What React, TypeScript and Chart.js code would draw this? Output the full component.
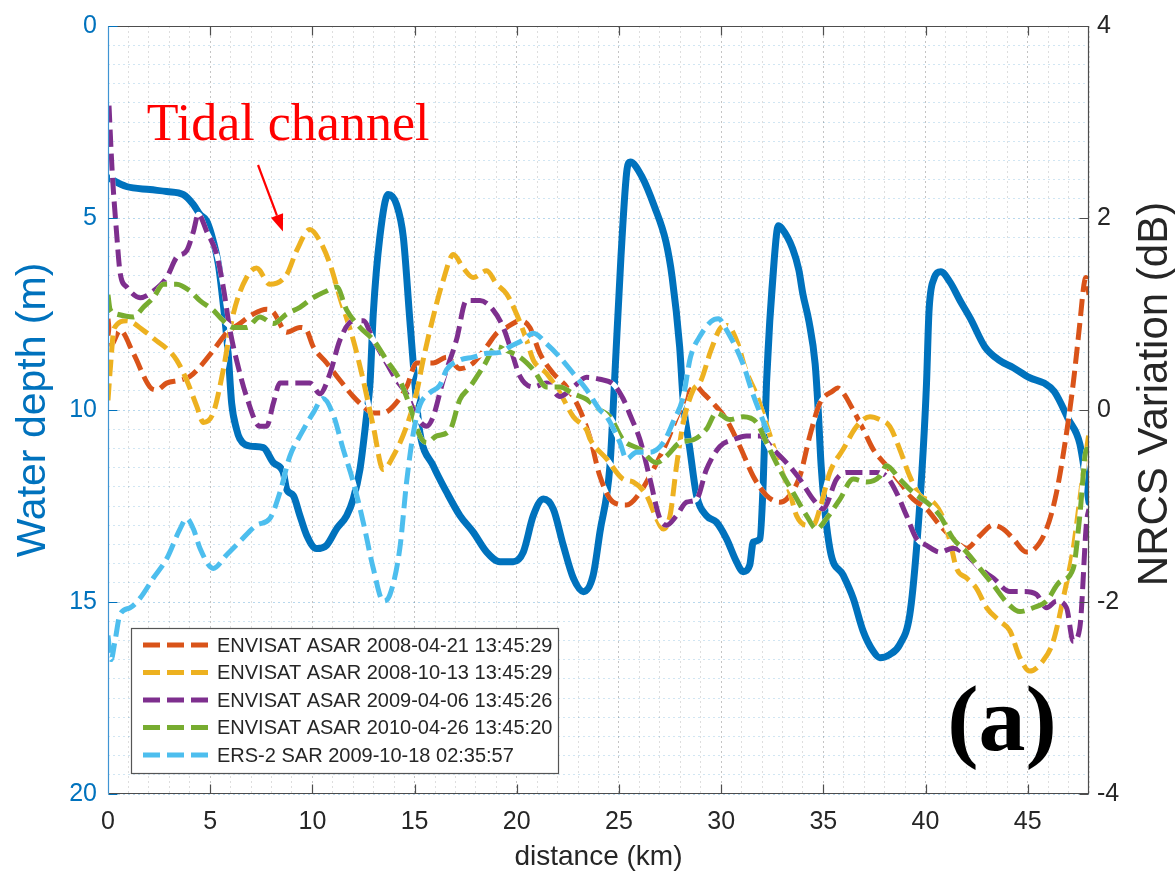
import React, { useEffect, useRef } from "react";
import { Chart, registerables } from "chart.js";

Chart.register(...registerables);

// ---------- data ----------
// Water depth profile along the transect: [distance km, depth m]
const waterDepth: [number, number][] = [
  [0, 3.95], [0.9, 4.18], [2.05, 4.26], [2.87, 4.31], [3.69, 4.39], [4.18, 4.65], [4.5, 4.91],
  [4.83, 5.08], [5.15, 5.6], [5.4, 6.2], [5.64, 7.24], [5.88, 8.53], [6.05, 9.82], [6.29, 10.5],
  [6.45, 10.75], [6.95, 10.94], [7.6, 10.98], [8.09, 11.37], [8.58, 11.63], [8.74, 12.06],
  [9.07, 12.23], [9.39, 12.75], [9.72, 13.26], [10.2, 13.61], [10.7, 13.52], [11.19, 13.09],
  [11.68, 12.75], [12.0, 12.32], [12.33, 11.54], [12.65, 10.16], [12.82, 9.3], [12.98, 7.49],
  [13.3, 5.5], [13.71, 4.39], [14.12, 4.65], [14.45, 5.5], [14.77, 7.67], [15.1, 9.82],
  [15.26, 10.59], [15.91, 11.45], [16.57, 12.14], [17.22, 12.75], [17.87, 13.18], [18.53, 13.7],
  [19.18, 13.95], [19.83, 13.95], [20.32, 13.7], [20.81, 12.75], [21.3, 12.32], [21.79, 12.58],
  [22.28, 13.53], [22.77, 14.38], [23.26, 14.73], [23.74, 14.3], [24.07, 13.18], [24.56, 11.45],
  [24.78, 9.3], [25.1, 6.0], [25.4, 3.72], [25.55, 3.54], [26.1, 3.9], [26.75, 4.72], [27.3, 5.62],
  [27.6, 6.53], [27.97, 8.35], [28.15, 9.8], [28.47, 11.02], [28.8, 12.23], [29.28, 12.75],
  [29.77, 12.92], [30.26, 13.35], [30.75, 13.95], [31.08, 14.21], [31.4, 14.04], [31.57, 13.44],
  [31.9, 13.35], [32.06, 11.88], [32.22, 9.3], [32.6, 6.07], [32.8, 5.2], [32.95, 5.26],
  [33.5, 5.8], [33.8, 6.35], [34.0, 6.98], [34.3, 7.7], [34.6, 8.8], [34.75, 10.0], [34.9, 11.5],
  [35.32, 13.61], [35.97, 14.3], [36.46, 14.9], [36.95, 15.76], [37.44, 16.28], [37.77, 16.45],
  [38.25, 16.37], [38.74, 16.11], [39.23, 15.33], [39.56, 13.61], [39.89, 11.02], [40.05, 9.3],
  [40.17, 7.44], [40.4, 6.6], [40.75, 6.4], [41.2, 6.67], [41.7, 7.16], [42.2, 7.62], [42.9, 8.35],
  [43.6, 8.7], [44.3, 8.9], [45.1, 9.16], [45.8, 9.3], [46.3, 9.52], [47.0, 10.25], [47.55, 10.88],
  [48.0, 12.4],
];

// NRCS variation profiles: [distance km, dB]
const asar20080421: [number, number][] = [
  [0, 0.95], [0.15, 0.68], [0.59, 0.83], [1.24, 0.59], [2.05, 0.24], [2.38, 0.21], [2.87, 0.28],
  [3.52, 0.31], [4.01, 0.35], [4.5, 0.45], [5.15, 0.62], [5.8, 0.8], [6.45, 0.9], [7.11, 1.0],
  [7.76, 1.05], [8.09, 1.02], [8.74, 0.81], [9.39, 0.86], [9.72, 0.83], [10.04, 0.66], [10.7, 0.49],
  [11.35, 0.31], [12.0, 0.14], [12.49, 0.04], [12.98, -0.03], [13.47, -0.03], [13.96, 0.04],
  [14.61, 0.24], [15.1, 0.49], [15.91, 0.49], [16.57, 0.55], [17.22, 0.43], [17.87, 0.49],
  [18.53, 0.66], [19.02, 0.8], [19.5, 0.86], [20.16, 0.93], [20.64, 0.86], [21.13, 0.59],
  [21.79, 0.38], [22.44, 0.24], [23.09, 0.0], [23.6, -0.3], [24.07, -0.69], [24.72, -0.96],
  [25.37, -0.99], [26.03, -0.86], [26.68, -0.62], [27.33, -0.34], [27.98, 0.0], [28.47, 0.2],
  [28.75, 0.25], [29.1, 0.18], [29.61, 0.07], [30.26, -0.1], [30.92, -0.38], [31.57, -0.69],
  [32.22, -0.89], [32.87, -0.96], [33.2, -0.93], [33.85, -0.69], [34.34, -0.27], [34.83, 0.07],
  [35.48, 0.2], [35.7, 0.23], [35.97, 0.18], [36.46, 0.0], [36.95, -0.2], [37.44, -0.41],
  [38.09, -0.58], [38.74, -0.75], [39.4, -0.93], [40.05, -1.03], [40.7, -1.2], [41.35, -1.34],
  [42.01, -1.44], [42.66, -1.31], [43.31, -1.2], [43.8, -1.24], [44.29, -1.34], [44.94, -1.48],
  [45.27, -1.46], [45.92, -1.24], [46.41, -0.86], [46.9, -0.24], [47.23, 0.28], [47.55, 0.9],
  [47.75, 1.3], [47.85, 1.38], [48.0, 1.2],
];

const asar20081013: [number, number][] = [
  [0, 0.1], [0.12, 0.45], [0.3, 0.85], [0.92, 0.93], [1.73, 0.83], [2.38, 0.72], [2.87, 0.64],
  [3.36, 0.52], [3.85, 0.31], [4.34, 0.04], [4.67, -0.13], [5.15, -0.03], [5.64, 0.42], [6.13, 1.0],
  [6.78, 1.38], [7.27, 1.48], [7.92, 1.31], [8.74, 1.41], [9.23, 1.66], [9.88, 1.88], [10.37, 1.76],
  [10.86, 1.52], [11.35, 1.17], [12.0, 0.73], [12.49, 0.31], [12.98, -0.17], [13.47, -0.62],
  [13.96, -0.48], [14.61, -0.17], [15.1, 0.18], [15.4, 0.5], [15.75, 0.83], [16.4, 1.35],
  [16.9, 1.62], [17.38, 1.48], [17.87, 1.38], [18.53, 1.45], [19.02, 1.31], [19.5, 1.21],
  [19.99, 1.0], [20.48, 0.73], [20.81, 0.52], [21.46, 0.38], [22.11, 0.18], [22.77, -0.07],
  [23.42, -0.21], [23.58, -0.3], [24.4, -0.51], [25.2, -0.72], [25.7, -0.75], [26.35, -0.89],
  [26.84, -1.13], [27.17, -1.24], [27.5, -1.1], [27.82, -0.58], [28.15, -0.13], [28.64, 0.21],
  [29.0, 0.3], [29.5, 0.62], [30.0, 0.86], [30.3, 0.88], [30.8, 0.7], [31.2, 0.42], [31.75, 0.15],
  [32.22, -0.15], [32.87, -0.58], [33.36, -0.86], [33.69, -1.1], [34.18, -1.2], [34.5, -1.2],
  [34.83, -1.03], [35.32, -0.65], [35.97, -0.41], [36.63, -0.17], [37.28, -0.07], [37.77, -0.1],
  [38.25, -0.17], [38.74, -0.41], [39.23, -0.69], [39.72, -0.89], [40.38, -0.96], [40.87, -1.13],
  [41.2, -1.37], [41.52, -1.65], [42.01, -1.75], [42.5, -1.86], [42.99, -2.06], [43.64, -2.2],
  [44.13, -2.3], [44.62, -2.58], [45.1, -2.72], [45.76, -2.61], [46.25, -2.41], [46.74, -1.96],
  [47.23, -1.44], [47.55, -0.93], [47.88, -0.41], [48.0, -0.24],
];

const asar20090406: [number, number][] = [
  [0.05, 3.17], [0.2, 2.5], [0.4, 1.9], [0.6, 1.42], [0.92, 1.28], [1.57, 1.17], [2.22, 1.24],
  [2.87, 1.38], [3.36, 1.59], [3.85, 1.66], [4.18, 1.86], [4.42, 2.04], [4.83, 1.86], [5.32, 1.62],
  [5.64, 1.28], [5.97, 0.83], [6.29, 0.52], [6.78, 0.14], [7.43, -0.17], [7.76, -0.17], [8.09, 0.07],
  [8.41, 0.28], [9.07, 0.28], [9.88, 0.28], [10.37, 0.17], [10.86, 0.38], [11.35, 0.73], [12.0, 0.93],
  [12.49, 0.93], [12.98, 0.73], [13.63, 0.49], [14.12, 0.31], [14.61, 0.17], [15.1, -0.07],
  [15.59, -0.17], [15.91, -0.07], [16.4, 0.31], [17.05, 0.73], [17.54, 1.14], [18.2, 1.14],
  [18.85, 1.04], [19.34, 0.86], [19.67, 0.66], [20.16, 0.35], [20.81, 0.24], [21.46, 0.28],
  [22.11, 0.14], [22.77, 0.24], [23.42, 0.34], [24.07, 0.32], [24.72, 0.27], [25.2, 0.12],
  [25.54, -0.05], [26.03, -0.31], [26.52, -0.72], [27.0, -1.13], [27.33, -1.2], [27.82, -1.1],
  [28.31, -0.96], [28.8, -0.93], [29.28, -0.62], [29.94, -0.38], [30.59, -0.31], [31.24, -0.27],
  [31.9, -0.27], [32.55, -0.41], [33.2, -0.55], [33.85, -0.72], [34.5, -0.93], [34.99, -1.03],
  [35.65, -0.72], [36.14, -0.65], [36.95, -0.65], [37.6, -0.65], [38.09, -0.69], [38.58, -0.86],
  [39.07, -1.1], [39.56, -1.34], [40.05, -1.41], [40.7, -1.48], [41.35, -1.44], [42.01, -1.51],
  [42.66, -1.65], [43.31, -1.75], [44.13, -1.89], [44.78, -1.89], [45.43, -1.92], [45.92, -2.06],
  [46.41, -1.99], [46.9, -2.06], [47.23, -2.41], [47.55, -2.27], [47.88, -1.17], [48.0, -1.03],
];

const asar20100426: [number, number][] = [
  [0, 1.2], [0.1, 1.05], [0.41, 1.0], [1.24, 0.97], [1.73, 1.07], [2.22, 1.17], [2.71, 1.31],
  [3.36, 1.31], [4.01, 1.24], [4.5, 1.14], [5.15, 1.04], [5.64, 0.93], [6.13, 0.86], [6.78, 0.86],
  [7.43, 0.97], [8.09, 0.9], [8.74, 1.0], [9.39, 1.07], [10.04, 1.17], [10.7, 1.24], [11.19, 1.28],
  [11.68, 1.04], [12.33, 0.86], [12.98, 0.73], [13.63, 0.52], [14.28, 0.31], [14.77, 0.04],
  [15.26, -0.27], [15.59, -0.34], [16.08, -0.27], [16.73, -0.21], [17.22, 0.11], [17.71, 0.24],
  [18.36, 0.45], [19.02, 0.66], [19.5, 0.62], [20.16, 0.55], [20.81, 0.42], [21.46, 0.24],
  [22.11, 0.24], [22.77, 0.17], [23.42, 0.11], [24.07, 0.0], [24.56, -0.07], [25.2, -0.31],
  [26.03, -0.41], [26.84, -0.55], [27.33, -0.48], [27.98, -0.34], [28.64, -0.31], [29.28, -0.2],
  [29.77, -0.03], [30.43, -0.1], [31.08, -0.07], [31.73, -0.13], [32.22, -0.34], [32.87, -0.62],
  [33.52, -0.86], [34.18, -1.1], [34.67, -1.24], [35.16, -1.13], [35.81, -0.93], [36.46, -0.72],
  [37.12, -0.75], [37.77, -0.69], [38.09, -0.58], [38.74, -0.72], [39.4, -0.86], [40.05, -0.96],
  [40.7, -1.1], [41.35, -1.34], [42.01, -1.48], [42.66, -1.65], [43.31, -1.82], [43.96, -2.0],
  [44.62, -2.1], [45.27, -2.06], [45.92, -1.99], [46.57, -1.79], [47.23, -1.65], [47.55, -1.1],
  [47.88, -0.41], [48.0, -0.41],
];

const ers20091018: [number, number][] = [
  [0, -2.35], [0.15, -2.6], [0.34, -2.41], [0.59, -2.13], [1.08, -2.06], [1.57, -1.96], [2.22, -1.75],
  [2.87, -1.55], [3.52, -1.24], [3.85, -1.13], [4.18, -1.24], [4.5, -1.44], [5.15, -1.65], [5.8, -1.51],
  [6.45, -1.37], [7.27, -1.2], [7.92, -1.13], [8.41, -0.86], [8.9, -0.48], [9.39, -0.27], [10.04, -0.03],
  [10.53, 0.12], [11.02, -0.05], [11.51, -0.41], [12.0, -0.75], [12.49, -1.17], [12.98, -1.65],
  [13.47, -1.99], [13.8, -1.92], [14.28, -1.44], [14.61, -0.75], [14.94, -0.24], [15.26, 0.05],
  [15.75, 0.18], [16.24, 0.26], [16.57, 0.42], [17.22, 0.52], [17.87, 0.55], [18.53, 0.59],
  [19.18, 0.6], [19.67, 0.66], [20.32, 0.73], [20.81, 0.8], [21.46, 0.69], [22.11, 0.55],
  [22.77, 0.38], [23.42, 0.21], [24.07, 0.0], [24.4, -0.07], [25.05, -0.34], [25.37, -0.51],
  [25.86, -0.44], [26.52, -0.44], [27.17, -0.34], [27.66, -0.12], [28.15, 0.14], [28.5, 0.55],
  [29.0, 0.78], [29.5, 0.92], [29.86, 0.95], [30.3, 0.82], [31.07, 0.48], [31.5, 0.2], [31.9, -0.03],
  [32.3, -0.24],
];

const nrcsSeries = [asar20080421, asar20081013, asar20090406, asar20100426, ers20091018];
const nrcsLabels = [
  "ENVISAT ASAR 2008-04-21 13:45:29",
  "ENVISAT ASAR 2008-10-13 13:45:29",
  "ENVISAT ASAR 2009-04-06 13:45:26",
  "ENVISAT ASAR 2010-04-26 13:45:20",
  "ERS-2 SAR 2009-10-18 02:35:57",
];
const nrcsColors = ["#D95319", "#EDB120", "#7E2F8E", "#77AC30", "#4DBEEE"];
const depthColor = "#0072BD";

const distanceRange = [0, 48];
const depthRange = [0, 20];
const nrcsRange = [-4, 4];
const majorDistanceTicks = [5, 10, 15, 20, 25, 30, 35, 40, 45];
const majorDepthTicks = [0, 5, 10, 15, 20];
const nrcsTicks = [-4, -2, 0, 2, 4];

// annotation anchors in data units
const tidalLabelAt = { x: 1.9, y: 2.97 };
const tidalArrowFrom = { x: 7.34, y: 3.62 };
const tidalArrowTo = { x: 8.56, y: 5.35 };
const panelLabelAt = { x: 43.74, y: 18.86 };

const SANS = '"Liberation Sans", Arial, Helvetica, sans-serif';
const SERIF = '"Liberation Serif", "Times New Roman", Times, serif';
const DASH = [17, 7];

const toPoints = (arr: [number, number][]) => arr.map(([x, y]) => ({ x, y }));

const decorPlugin = {
  id: "decor",
  beforeDatasetDraw(chart: any, args: any) {
    const ds = chart.data.datasets[args.index];
    if (!ds.borderDash || !ds.borderDash.length) return;
    const el = args.meta.dataset;
    if (!el) return;
    const orig = el.options;
    const ctx = chart.ctx;
    const a = chart.chartArea;
    el.options = Object.assign(Object.create(orig), { borderColor: "#ffffff", borderDash: [] });
    ctx.save();
    ctx.beginPath();
    ctx.rect(a.left, a.top, a.right - a.left, a.bottom - a.top);
    ctx.clip();
    el.draw(ctx, a);
    ctx.restore();
    el.options = orig;
  },
  afterDraw(chart: any) {
    const ctx = chart.ctx as CanvasRenderingContext2D;
    const a = chart.chartArea;
    const sx = chart.scales.x;
    const sy = chart.scales.y;
    const sy2 = chart.scales.y2;
    const L = Math.round(a.left) + 0.5;
    const R = Math.round(a.right) - 0.5;
    const T = Math.round(a.top) + 0.5;
    const B = Math.round(a.bottom) - 0.5;

    ctx.save();
    // axes box
    ctx.lineWidth = 1.2;
    ctx.strokeStyle = "#4d4d4d";
    ctx.beginPath();
    ctx.moveTo(L, T); ctx.lineTo(R, T); ctx.lineTo(R, B); ctx.lineTo(L, B);
    ctx.stroke();
    ctx.strokeStyle = "#3f94d3";
    ctx.beginPath();
    ctx.moveTo(L, T); ctx.lineTo(L, B);
    ctx.stroke();

    // inward ticks
    const tl = 9;
    ctx.strokeStyle = "#4d4d4d";
    ctx.lineWidth = 1.2;
    ctx.beginPath();
    majorDistanceTicks.forEach((v) => {
      const px = Math.round(sx.getPixelForValue(v)) + 0.5;
      ctx.moveTo(px, B); ctx.lineTo(px, B - tl);
      ctx.moveTo(px, T); ctx.lineTo(px, T + tl);
    });
    nrcsTicks.forEach((v) => {
      const py = Math.round(sy2.getPixelForValue(v)) + 0.5;
      ctx.moveTo(R, py); ctx.lineTo(R - tl, py);
    });
    ctx.stroke();
    ctx.strokeStyle = depthColor;
    ctx.beginPath();
    majorDepthTicks.forEach((v) => {
      const py = Math.round(sy.getPixelForValue(v)) + 0.5;
      ctx.moveTo(L, py); ctx.lineTo(L + tl, py);
    });
    ctx.stroke();

    // right axis title (reads bottom to top)
    ctx.fillStyle = "#262626";
    ctx.font = `42px ${SANS}`;
    ctx.textAlign = "center";
    ctx.textBaseline = "middle";
    ctx.translate(1155, (a.top + a.bottom) / 2 - 16);
    ctx.rotate(-Math.PI / 2);
    ctx.fillText("NRCS Variation (dB)", 0, 0);
    ctx.setTransform(1, 0, 0, 1, 0, 0);

    // legend
    const lx = a.left + 23;
    const ly = a.bottom - 166;
    const lw = 427;
    const lh = 145;
    ctx.fillStyle = "#ffffff";
    ctx.fillRect(lx, ly, lw, lh);
    ctx.strokeStyle = "#555555";
    ctx.lineWidth = 1.2;
    ctx.strokeRect(Math.round(lx) + 0.5, Math.round(ly) + 0.5, lw, lh);
    const legendSets = chart.data.datasets.filter((d: any) => d.borderDash && d.borderDash.length);
    legendSets.forEach((d: any, i: number) => {
      const cy = ly + 17 + i * 27.5;
      ctx.strokeStyle = d.borderColor;
      ctx.lineWidth = 5;
      ctx.setLineDash(DASH);
      ctx.beginPath();
      ctx.moveTo(lx + 12, cy);
      ctx.lineTo(lx + 78, cy);
      ctx.stroke();
      ctx.setLineDash([]);
      ctx.fillStyle = "#262626";
      ctx.font = `20px ${SANS}`;
      ctx.textAlign = "left";
      ctx.textBaseline = "middle";
      ctx.fillText(d.label, lx + 86, cy + 1);
    });

    // "Tidal channel" annotation
    ctx.fillStyle = "#ff0000";
    ctx.font = `52px ${SERIF}`;
    ctx.textAlign = "left";
    ctx.textBaseline = "alphabetic";
    ctx.fillText("Tidal channel", sx.getPixelForValue(tidalLabelAt.x), sy.getPixelForValue(tidalLabelAt.y));
    const x1 = sx.getPixelForValue(tidalArrowFrom.x);
    const y1 = sy.getPixelForValue(tidalArrowFrom.y);
    const x2 = sx.getPixelForValue(tidalArrowTo.x);
    const y2 = sy.getPixelForValue(tidalArrowTo.y);
    const ang = Math.atan2(y2 - y1, x2 - x1);
    const hl = 17;
    const hw = 6.5;
    const bx = x2 - hl * Math.cos(ang);
    const by = y2 - hl * Math.sin(ang);
    ctx.strokeStyle = "#ff0000";
    ctx.lineWidth = 2.2;
    ctx.beginPath();
    ctx.moveTo(x1, y1);
    ctx.lineTo(bx, by);
    ctx.stroke();
    ctx.beginPath();
    ctx.moveTo(x2, y2);
    ctx.lineTo(bx + hw * Math.sin(ang), by - hw * Math.cos(ang));
    ctx.lineTo(bx - hw * Math.sin(ang), by + hw * Math.cos(ang));
    ctx.closePath();
    ctx.fill();

    // panel label
    ctx.fillStyle = "#000000";
    ctx.font = `bold 94px ${SERIF}`;
    ctx.textAlign = "center";
    ctx.textBaseline = "alphabetic";
    ctx.fillText("(a)", sx.getPixelForValue(panelLabelAt.x), sy.getPixelForValue(panelLabelAt.y));
    ctx.restore();
  },
};

export default function App() {
  const canvasRef = useRef<HTMLCanvasElement | null>(null);

  useEffect(() => {
    document.body.style.margin = "0";
    document.body.style.overflow = "hidden";
    const canvas = canvasRef.current;
    if (!canvas) return;

    const datasets: any[] = [
      {
        label: "Water depth",
        data: toPoints(waterDepth),
        yAxisID: "y",
        borderColor: depthColor,
        borderWidth: 7,
        borderJoinStyle: "round",
        borderCapStyle: "round",
        cubicInterpolationMode: "monotone",
        pointRadius: 0,
        order: 10,
      },
      ...nrcsSeries.map((s, i) => ({
        label: nrcsLabels[i],
        data: toPoints(s),
        yAxisID: "y2",
        borderColor: nrcsColors[i],
        borderWidth: 5,
        borderDash: DASH,
        cubicInterpolationMode: "monotone",
        pointRadius: 0,
        order: 5 - i,
      })),
    ];

    const chart = new Chart(canvas, {
      type: "line",
      data: { datasets },
      plugins: [decorPlugin],
      options: {
        responsive: false,
        animation: false,
        devicePixelRatio: 1,
        layout: { padding: { top: 20, left: 0, right: 0, bottom: 0 } },
        plugins: { legend: { display: false }, tooltip: { enabled: false } },
        elements: { point: { radius: 0 } },
        scales: {
          x: {
            type: "linear",
            position: "bottom",
            min: distanceRange[0],
            max: distanceRange[1],
            afterFit: (s: any) => { s.height = 80; },
            ticks: {
              stepSize: 1,
              autoSkip: false,
              maxRotation: 0,
              padding: 13,
              color: "#262626",
              font: { size: 25, family: SANS },
              callback: (v: any) => (Number(v) % 5 === 0 && Number(v) < 48 ? String(v) : ""),
            },
            grid: {
              drawTicks: false,
              lineWidth: 1,
              color: (c: any) =>
                c.tick && c.tick.value % 5 === 0 ? "rgba(60,60,60,0.3)" : "rgba(60,60,60,0.17)",
            },
            border: { display: false, dash: [2, 3] },
            title: {
              display: true,
              text: "distance (km)",
              color: "#262626",
              font: { size: 28, family: SANS },
              padding: { top: 0, bottom: 0 },
            },
          },
          y: {
            type: "linear",
            position: "left",
            reverse: true,
            min: depthRange[0],
            max: depthRange[1],
            afterFit: (s: any) => { s.width = 108; },
            ticks: {
              stepSize: 0.5,
              autoSkip: false,
              padding: 11,
              color: depthColor,
              font: { size: 25, family: SANS },
              callback: (v: any) => (Number(v) % 5 === 0 ? String(v) : ""),
            },
            grid: {
              drawTicks: false,
              lineWidth: 1,
              color: (c: any) =>
                c.tick && c.tick.value % 5 === 0 ? "rgba(0,114,189,0.28)" : "rgba(0,114,189,0.18)",
            },
            border: { display: false, dash: [2, 3] },
            title: {
              display: true,
              text: "Water depth (m)",
              color: depthColor,
              font: { size: 41, family: SANS },
              padding: { top: 9, bottom: 0 },
            },
          },
          y2: {
            type: "linear",
            position: "right",
            min: nrcsRange[0],
            max: nrcsRange[1],
            afterFit: (s: any) => { s.width = 86; },
            ticks: {
              stepSize: 2,
              autoSkip: false,
              padding: 8,
              color: "#262626",
              font: { size: 25, family: SANS },
            },
            grid: { drawOnChartArea: false, drawTicks: false },
            border: { display: false },
          },
        },
      } as any,
    });

    return () => chart.destroy();
  }, []);

  return (
    <div style={{ width: 1175, height: 874, background: "#ffffff" }}>
      <canvas ref={canvasRef} width={1175} height={874} style={{ display: "block" }} />
    </div>
  );
}
